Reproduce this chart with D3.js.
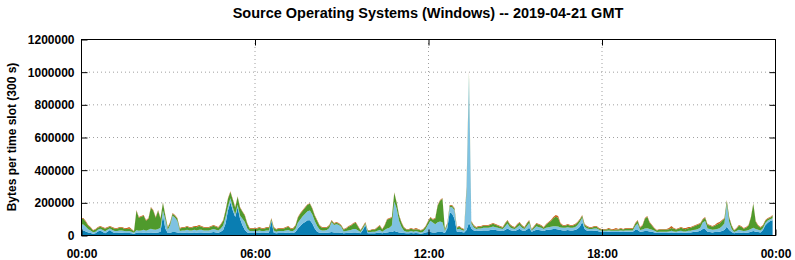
<!DOCTYPE html>
<html>
<head>
<meta charset="utf-8">
<script src="https://cdn.jsdelivr.net/npm/d3@7"></script>
<style>
  body { margin: 0; background: #fff; }
  text { font-family: "Liberation Sans", Arial, sans-serif; font-weight: bold; }
</style>
</head>
<body>
<svg id="chart"></svg>
<script>
// Values per 300 s slot, in thousands of bytes (288 slots, 00:00 -> 24:00)
const darkBlueK = [
  30,28,22,15,12,8,10,22,28,18,10,20, 30,18,12,12,14,14,12,12,12,10,8,14,
  12,12,14,12,14,16,14,14,16,20,120,40, 12,14,18,18,16,12,14,14,16,14,14,16,
  14,16,16,14,14,14,16,18,16,14,20,30, 70,150,200,150,110,170,100,60,30,15,12,12,
  12,12,14,12,12,14,14,85,14,10,12,12, 12,14,16,12,12,18,40,55,70,80,90,90,
  70,40,20,14,14,14,14,16,18,16,16,16, 14,10,12,14,14,16,16,14,10,30,60,10,
  10,10,10,14,14,10,14,16,18,18,24,20, 16,14,12,10,10,12,10,12,10,8,10,16,
  18,18,16,16,18,18,18,12,40,140,130,100, 20,22,18,16,30,75,40,28,24,26,26,28,
  28,28,30,32,30,28,26,24,30,40,30,26, 24,30,38,28,24,32,45,20,26,32,30,28,
  24,30,32,34,36,36,34,30,28,28,30,28, 28,30,36,50,80,36,26,24,24,26,26,22,
  18,18,18,20,18,18,18,18,20,18,20,20, 20,20,30,30,20,22,24,24,22,20,16,12,
  12,12,12,12,14,16,14,12,14,16,14,14, 16,16,18,20,22,26,36,36,20,18,16,18,
  18,20,24,30,50,30,18,10,14,16,14,12, 14,16,20,24,20,18,16,30,60,75,85,90
];
const lightBlueK = [
  35,36,28,20,15,9,10,10,10,12,13,12, 10,12,12,12,14,14,12,11,12,10,6,15,
  14,16,18,14,18,22,20,18,20,25,30,55, 20,45,100,88,70,12,14,14,16,14,14,16,
  14,16,16,14,14,14,16,18,16,14,20,28, 40,25,25,20,15,15,20,40,50,25,12,12,
  12,12,14,12,12,14,14,6,14,10,12,12, 12,14,14,12,12,18,35,40,45,50,55,60,
  55,45,35,20,14,14,16,26,60,45,50,45, 35,12,12,14,16,20,20,14,8,10,8,8,
  8,10,10,12,16,10,16,24,26,40,180,140, 70,35,14,10,10,12,10,12,10,8,10,20,
  45,70,60,50,60,65,60,12,20,30,40,52, 14,16,12,10,240,890,30,18,12,14,14,16,
  16,16,18,20,18,16,14,12,22,30,18,14, 12,18,22,16,12,22,28,8,14,22,18,16,
  12,14,16,16,18,18,18,16,16,16,18,16, 16,18,24,30,25,14,14,12,12,14,14,10,
  8,8,8,8,8,8,8,8,8,8,8,8, 8,8,25,40,10,12,16,18,14,12,10,6,
  8,8,8,8,8,10,8,8,10,10,8,8, 10,10,12,12,14,18,40,50,20,18,16,16,
  18,22,30,40,140,50,18,8,10,16,14,12, 12,14,16,20,16,14,12,12,14,14,12,12
];
const greenK = [
  34,35,30,22,18,11,14,13,13,15,16,13, 11,15,15,15,17,17,15,14,15,13,8,120,
  80,84,86,62,68,129,115,74,113,55,47,23, 13,16,12,12,14,15,17,17,19,17,17,19,
  19,23,19,17,17,17,19,21,19,17,23,30, 39,47,39,46,42,49,47,42,38,29,15,15,
  15,15,17,15,15,17,17,9,17,13,15,15, 15,17,21,15,15,21,31,35,34,37,40,41,
  36,33,33,23,17,17,15,15,10,8,9,8, 8,11,15,23,27,33,39,23,9,11,7,9,
  9,13,13,19,27,13,27,54,56,48,54,37, 32,26,19,13,13,15,13,11,13,11,13,15,
  18,18,18,34,101,127,144,9,9,9,9,9, 11,13,9,7,20,25,11,11,9,11,11,13,
  13,13,15,17,15,13,11,9,17,18,15,11, 9,15,15,13,9,15,15,5,11,15,15,13,
  9,19,27,36,48,58,54,21,13,13,15,13, 13,15,15,14,13,13,11,9,9,11,11,7,
  7,7,7,9,7,5,7,7,11,7,11,11, 11,11,14,18,15,23,60,70,39,25,13,9,
  13,13,13,13,13,17,17,13,15,19,17,13, 15,19,21,25,27,25,18,20,23,21,19,23,
  29,29,34,30,20,26,21,9,15,25,23,15, 19,27,70,147,45,25,17,15,14,11,9,16
];
const orangeK = [
  5,5,5,4,4,3,3,4,4,4,4,4, 4,4,4,4,4,4,4,6,10,4,2,4,
  4,4,4,4,4,4,4,4,4,4,4,4, 4,4,4,4,4,4,4,4,4,4,4,4,
  8,6,4,4,4,4,4,4,4,4,4,4, 4,4,4,4,4,4,4,4,4,4,4,4,
  4,4,4,4,4,4,4,4,4,4,4,4, 4,4,4,4,4,4,4,4,4,4,4,4,
  4,4,4,4,4,4,4,4,4,4,4,4, 4,4,4,4,4,4,4,4,4,4,4,4,
  4,4,4,4,4,4,4,4,4,4,4,4, 4,4,4,4,4,4,4,8,4,4,4,4,
  4,4,4,4,4,4,4,4,4,4,4,4, 4,4,4,4,10,10,4,4,4,4,4,4,
  4,4,4,4,4,4,4,4,4,4,4,4, 4,4,4,4,4,4,4,4,4,4,4,4,
  4,4,4,6,8,10,10,6,4,4,4,4, 4,4,4,4,4,4,4,4,4,4,4,4,
  4,4,4,6,4,6,10,4,4,4,4,4, 4,4,4,4,4,4,4,4,4,4,4,4,
  4,4,4,4,8,12,4,4,4,4,4,8, 8,4,4,4,4,4,4,4,4,4,4,4,
  8,8,4,4,4,4,4,4,4,4,4,4, 4,4,4,4,4,4,4,4,4,4,4,4
];
const seriesKeys = ["darkBlue", "lightBlue", "green", "orange"];
const seriesColors = ["#0a7eb2", "#7fc2e2", "#4f9a2c", "#c8641e"];
const yTickValues = [0, 200000, 400000, 600000, 800000, 1000000, 1200000];
const xTickLabels = ["00:00", "06:00", "12:00", "18:00", "00:00"];

const slotSeconds = 300;
const width = 795, height = 260;
const margin = { top: 39, right: 20, bottom: 25, left: 81 };

const rows = darkBlueK.map((v, i) => ({
    t: i * slotSeconds,
    darkBlue: v * 1000,
    lightBlue: lightBlueK[i] * 1000,
    green: greenK[i] * 1000,
    orange: orangeK[i] * 1000
}));

const svg = d3.select("#chart")
    .attr("width", width)
    .attr("height", height);

const x = d3.scaleLinear()
    .domain([0, 86400])
    .range([margin.left, width - margin.right]);

const y = d3.scaleLinear()
    .domain([0, 1200000])
    .range([height - margin.bottom, margin.top]);

const xTickValues = xTickLabels.map((d, i) => i * 21600);

// grid
svg.append("g")
    .selectAll("line")
    .data(yTickValues.slice(1, -1))
    .enter().append("line")
    .attr("x1", margin.left).attr("x2", width - margin.right)
    .attr("y1", d => y(d) + 0.5).attr("y2", d => y(d) + 0.5)
    .attr("stroke", "#a0a0a0")
    .attr("stroke-dasharray", "1,3");

svg.append("g")
    .selectAll("line")
    .data(xTickValues.slice(1, -1))
    .enter().append("line")
    .attr("x1", d => x(d) + 0.5).attr("x2", d => x(d) + 0.5)
    .attr("y1", margin.top).attr("y2", height - margin.bottom)
    .attr("stroke", "#a0a0a0")
    .attr("stroke-dasharray", "1,3");

// stacked areas
const stack = d3.stack().keys(seriesKeys);
const layers = stack(rows);

const area = d3.area()
    .x(d => x(d.data.t))
    .y0(d => y(d[0]))
    .y1(d => y(d[1]));

svg.append("g")
    .selectAll("path")
    .data(layers)
    .enter().append("path")
    .attr("fill", (d, i) => seriesColors[i])
    .attr("d", area);

// frame
svg.append("rect")
    .attr("x", margin.left + 0.5)
    .attr("y", margin.top + 0.5)
    .attr("width", width - margin.left - margin.right)
    .attr("height", height - margin.top - margin.bottom)
    .attr("fill", "none")
    .attr("stroke", "#000")
    .attr("stroke-width", 1);

// axes (inward ticks, mirrored)
const yAxisLeft = d3.axisLeft(y).tickValues(yTickValues).tickSize(-6).tickPadding(7).tickFormat(d3.format("d"));
const yAxisRight = d3.axisRight(y).tickValues(yTickValues.slice(1, -1)).tickSize(-6).tickFormat("");
const xAxisBottom = d3.axisBottom(x).tickValues(xTickValues).tickSize(-6).tickPadding(14).tickFormat((d, i) => xTickLabels[i]);
const xAxisTop = d3.axisTop(x).tickValues(xTickValues.slice(1, -1)).tickSize(-6).tickFormat("");

const gl = svg.append("g").attr("transform", `translate(${margin.left + 0.5},0.5)`).call(yAxisLeft);
const gr = svg.append("g").attr("transform", `translate(${width - margin.right + 0.5},0.5)`).call(yAxisRight);
const gb = svg.append("g").attr("transform", `translate(0.5,${height - margin.bottom + 0.5})`).call(xAxisBottom);
const gt = svg.append("g").attr("transform", `translate(0.5,${margin.top + 0.5})`).call(xAxisTop);

[gl, gr, gb, gt].forEach(g => {
    g.select(".domain").remove();
    g.selectAll("line").attr("stroke", "#000");
    g.selectAll("text").attr("fill", "#000").style("font-size", "12px").style("font-family", "'Liberation Sans', Arial, sans-serif");
});

// title
svg.append("text")
    .attr("x", 428)
    .attr("y", 18)
    .attr("text-anchor", "middle")
    .style("font-size", "14.5px")
    .text("Source Operating Systems (Windows) -- 2019-04-21 GMT");

// y label
svg.append("text")
    .attr("transform", `translate(16,${(margin.top + height - margin.bottom) / 2}) rotate(-90)`)
    .attr("text-anchor", "middle")
    .style("font-size", "12px")
    .text("Bytes per time slot (300 s)");
</script>
</body>
</html>
